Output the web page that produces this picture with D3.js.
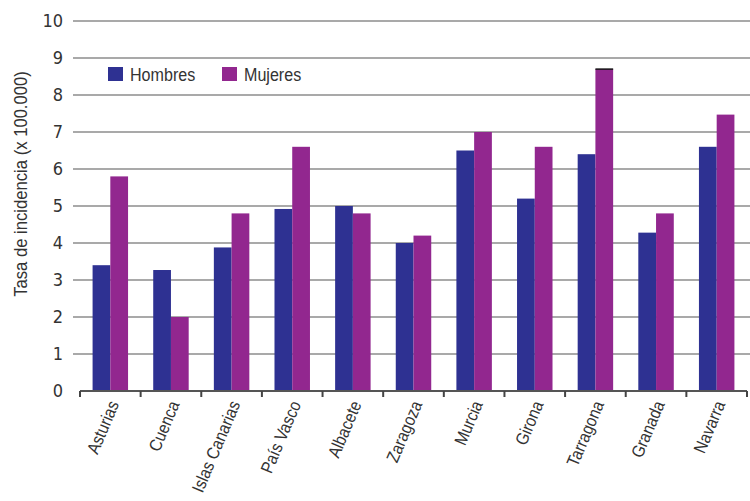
<!DOCTYPE html>
<html>
<head>
<meta charset="utf-8">
<script src="https://cdn.jsdelivr.net/npm/d3@7"></script>
<style>
  html, body { margin: 0; padding: 0; background: #fff; }
  svg { display: block; font-family: "Liberation Sans", Arial, sans-serif; }
</style>
</head>
<body>
<svg id="chart" width="750" height="501"></svg>
<script>
const categories = ["Asturias", "Cuenca", "Islas Canarias", "País Vasco", "Albacete", "Zaragoza", "Murcia", "Girona", "Tarragona", "Granada", "Navarra"];
const hombres = [3.4, 3.27, 3.88, 4.92, 5.0, 4.0, 6.5, 5.2, 6.4, 4.28, 6.6];
const mujeres = [5.8, 2.0, 4.8, 6.6, 4.8, 4.2, 7.0, 6.6, 8.7, 4.8, 7.47];
const seriesNames = ["Hombres", "Mujeres"];
const seriesColors = ["#2e3192", "#92278f"];
const yTicks = [0, 1, 2, 3, 4, 5, 6, 7, 8, 9, 10];
const yTitle = "Tasa de incidencia (x 100.000)";

const svg = d3.select("#chart");
const x0 = 80, x1 = 747, yTop = 21, yBot = 391;
const narrow = 0.9;

const x = d3.scaleBand().domain(categories).range([x0, x1]).paddingInner(0.415).paddingOuter(0.2075);
const xs = d3.scaleBand().domain(seriesNames).range([0, x.bandwidth()]);
const y = d3.scaleLinear().domain([0, 10]).range([yBot, yTop]);

// gridlines
svg.append("g").selectAll("line").data(yTicks.filter(d => d > 0)).join("line")
  .attr("x1", 73).attr("x2", 750)
  .attr("y1", d => y(d)).attr("y2", d => y(d))
  .attr("stroke", "#8c8c8c").attr("stroke-width", 1.6);

// y labels
svg.append("g").selectAll("text").data(yTicks).join("text")
  .attr("x", 63).attr("y", d => y(d)).attr("dy", "0.36em")
  .attr("text-anchor", "end").attr("font-size", 18)
  .attr("font-family", "'DejaVu Sans Condensed', 'DejaVu Sans', sans-serif")
  .attr("fill", "#333")
  .text(d => d);

// y title
svg.append("text")
  .attr("transform", `translate(27,184) rotate(-90) scale(${narrow},1)`)
  .attr("text-anchor", "middle").attr("font-size", 18.5).attr("fill", "#333")
  .text(yTitle);

// bars
const data = categories.map((c, i) => ({ cat: c, vals: [hombres[i], mujeres[i]] }));
const groups = svg.append("g").selectAll("g").data(data).join("g")
  .attr("transform", d => `translate(${x(d.cat)},0)`);
groups.selectAll("rect").data(d => d.vals.map((v, j) => ({ v, s: seriesNames[j], c: seriesColors[j] })))
  .join("rect")
  .attr("x", d => xs(d.s)).attr("width", xs.bandwidth())
  .attr("y", d => y(d.v)).attr("height", d => yBot - y(d.v))
  .attr("fill", d => d.c);

// dark cap on the tallest bar
const maxIdx = d3.maxIndex(mujeres);
svg.append("line")
  .attr("x1", x(categories[maxIdx]) + xs("Mujeres")).attr("x2", x(categories[maxIdx]) + xs("Mujeres") + xs.bandwidth())
  .attr("y1", y(mujeres[maxIdx])).attr("y2", y(mujeres[maxIdx]))
  .attr("stroke", "#111").attr("stroke-width", 1.5);

// x axis
const ax = svg.append("g");
ax.append("line").attr("x1", x0).attr("x2", x1).attr("y1", yBot).attr("y2", yBot)
  .attr("stroke", "#555").attr("stroke-width", 2);
const bounds = categories.map(c => x(c) - x.step() * x.paddingInner() / 2).concat([x1]);
ax.selectAll("line.tick").data(bounds).join("line").attr("class", "tick")
  .attr("x1", d => d).attr("x2", d => d).attr("y1", yBot).attr("y2", yBot + 6)
  .attr("stroke", "#444").attr("stroke-width", 2);
ax.selectAll("text").data(categories).join("text")
  .attr("transform", d => `translate(${x(d) + x.bandwidth() / 2 + 9},${yBot + 13}) rotate(-67) scale(0.88,1)`)
  .attr("text-anchor", "end").attr("font-size", 17.5).attr("fill", "#333")
  .text(d => d);

// legend
const legend = svg.append("g");
const legX = [108, 222];
seriesNames.forEach((s, i) => {
  legend.append("rect").attr("x", legX[i]).attr("y", 67).attr("width", 15).attr("height", 14).attr("fill", seriesColors[i]);
  legend.append("text").attr("transform", `translate(${legX[i] + 22},81) scale(0.87,1)`)
    .attr("font-size", 18.5).attr("fill", "#333").text(s);
});
</script>
</body>
</html>
